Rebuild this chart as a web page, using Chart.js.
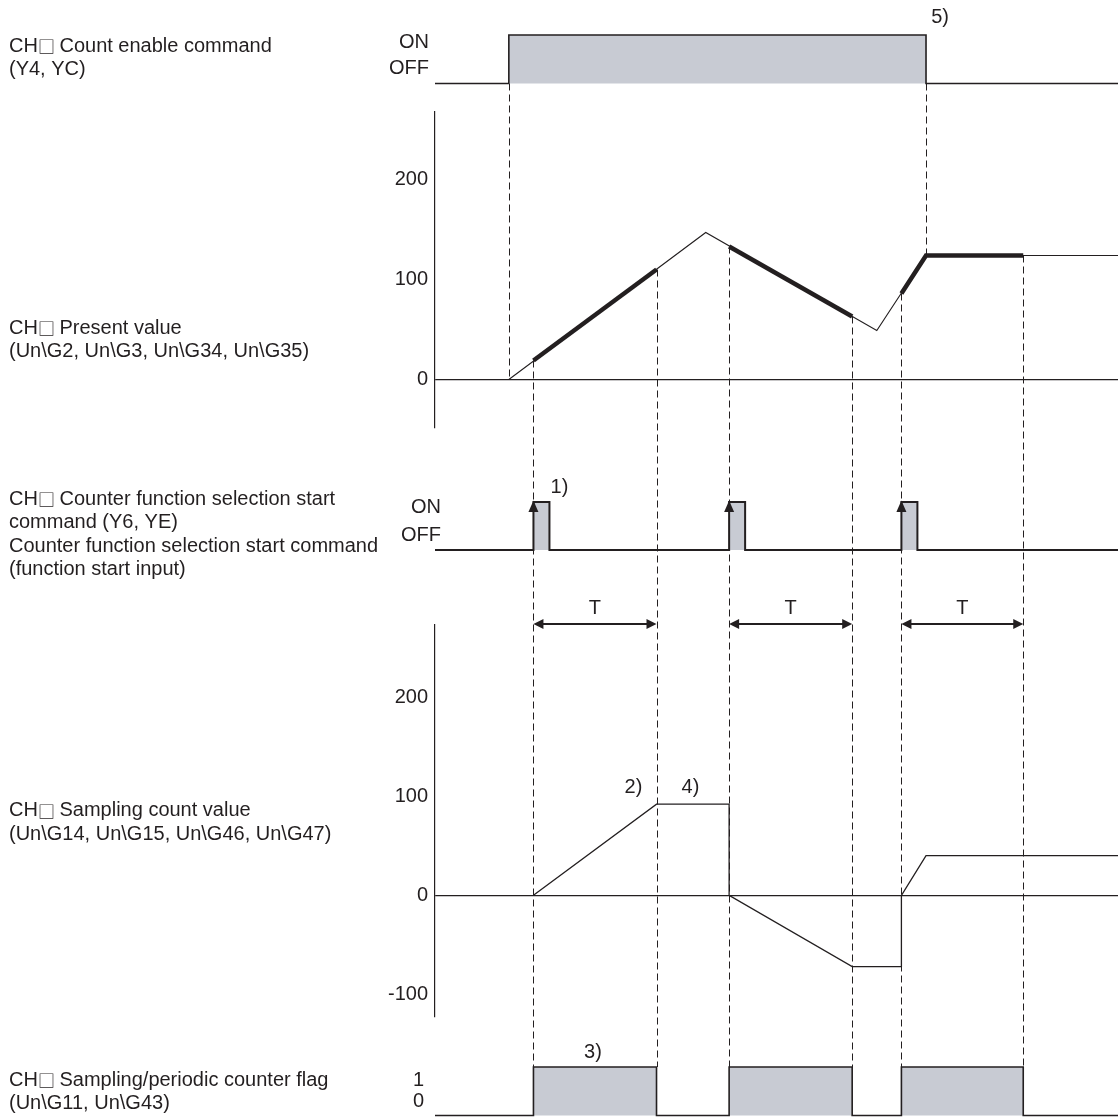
<!DOCTYPE html>
<html>
<head>
<meta charset="utf-8">
<script src="https://cdn.jsdelivr.net/npm/chart.js@4.4.0/dist/chart.umd.min.js"></script>
<style>
html,body{margin:0;padding:0;background:#fff;overflow:hidden;}
canvas{display:block;}
</style>
</head>
<body>
<canvas id="c" width="1118" height="1117"></canvas>
<script>
// ---- data (time in ms, T = 100 ms) ----
const timeRange = [0, 555];

const ceTimes  = [0, 60, 399, 555];          // count enable command
const ceLevels = [0, 1, 0, 0];

const pvTimes  = [60, 220, 359, 399, 555];    // present value
const pvValues = [0, 147, 49, 124, 124];
const pvTicks  = [0, 100, 200];

const held1Times = [80, 180],       held1Values = [19, 110];
const held2Times = [239, 339],      held2Values = [133, 63];
const held3Times = [379, 399, 478], held3Values = [86, 124, 124];

const stTimes  = [0, 80, 93, 239, 252, 379, 392, 555];   // function start command
const stLevels = [0, 1, 0, 1, 0, 1, 0, 0];

const sampleStart = [80, 239, 379];
const sampleEnd   = [180, 339, 478];

const scTimes  = [80, 180, 239, 239, 339, 379, 379, 399, 555];  // sampling count value
const scValues = [0, 92, 92, 0, -72, -72, 0, 40, 40];
const scTicks  = [-100, 0, 100, 200];

const flTimes  = [0, 80, 180, 239, 339, 379, 478, 555];   // sampling/periodic counter flag
const flLevels = [0, 1, 0, 1, 0, 1, 0, 0];

const rowLabels = [
  ['CH\u25A1 Count enable command', '(Y4, YC)'],
  ['CH\u25A1 Present value', '(Un\\G2, Un\\G3, Un\\G34, Un\\G35)'],
  ['CH\u25A1 Counter function selection start', 'command (Y6, YE)', 'Counter function selection start command', '(function start input)'],
  ['CH\u25A1 Sampling count value', '(Un\\G14, Un\\G15, Un\\G46, Un\\G47)'],
  ['CH\u25A1 Sampling/periodic counter flag', '(Un\\G11, Un\\G43)']
];
const onOffLabels = ['ON', 'OFF'];
const flagLabels = ['1', '0'];
const noteLabels = ['1)', '2)', '3)', '4)', '5)'];

// ---- style ----
const INK = '#231f20';
const FILL = '#c8cbd3';
const FONT = "'Liberation Sans', Arial, Helvetica, sans-serif";
const BOX_FONT = "'Noto Sans CJK JP', 'DejaVu Sans', sans-serif";
const AXIS_W = 70;

const pts = (ts, vs) => ts.map((t, i) => ({ x: t, y: vs[i] }));

function bandAxis(weight, stackWeight, min, max, extra) {
  return Object.assign({
    type: 'linear', position: 'left', stack: 'rows', stackWeight, weight, min, max,
    ticks: { display: false },
    grid: { display: false },
    border: { display: false },
    afterFit: s => { s.width = AXIS_W; s.paddingTop = 0; s.paddingBottom = 0; }
  }, extra || {});
}

function valueAxis(weight, stackWeight, min, max, tickList) {
  return bandAxis(weight, stackWeight, min, max, {
    afterBuildTicks: s => { s.ticks = tickList.map(v => ({ value: v })); },
    ticks: { display: true, autoSkip: false, padding: 7, color: INK, font: { family: FONT, size: 20 },
             callback: v => String(v) },
    grid: {
      display: true, drawOnChartArea: true, drawTicks: false, lineWidth: 1.2,
      color: c => (c.tick && c.tick.value === 0) ? INK : 'rgba(0,0,0,0)'
    },
    border: { display: true, color: INK, width: 1.2 }
  });
}

function triangle(ctx, x1, y1, x2, y2, x3, y3) {
  ctx.beginPath(); ctx.moveTo(x1, y1); ctx.lineTo(x2, y2); ctx.lineTo(x3, y3); ctx.closePath(); ctx.fill();
}

// left-aligned text where the box glyph uses a font with a full-size square
function drawRuns(ctx, txt, x, y) {
  const parts = txt.split('\u25A1');
  parts.forEach((p, i) => {
    ctx.font = `20px ${FONT}`;
    ctx.fillText(p, x, y);
    x += ctx.measureText(p).width;
    if (i < parts.length - 1) {
      ctx.font = `17px ${BOX_FONT}`;
      ctx.fillText('\u25A1', x, y + 0.5);
      x += ctx.measureText('\u25A1').width - 1;
    }
  });
  ctx.font = `20px ${FONT}`;
}

const overlay = {
  id: 'overlay',
  beforeDatasetsDraw(chart) {
    const { ctx, scales: s } = chart;
    const X = t => s.x.getPixelForValue(t);
    const guides = [
      [ceTimes[1], s.yCE.getPixelForValue(0), s.yPV.getPixelForValue(pvValues[0])],
      [ceTimes[2], s.yCE.getPixelForValue(0), s.yPV.getPixelForValue(pvValues[3])],
      [held1Times[0], s.yPV.getPixelForValue(held1Values[0]), s.yFL.getPixelForValue(1)],
      [held1Times[1], s.yPV.getPixelForValue(held1Values[1]), s.yFL.getPixelForValue(1)],
      [held2Times[0], s.yPV.getPixelForValue(held2Values[0]), s.yFL.getPixelForValue(1)],
      [held2Times[1], s.yPV.getPixelForValue(held2Values[1]), s.yFL.getPixelForValue(1)],
      [held3Times[0], s.yPV.getPixelForValue(held3Values[0]), s.yFL.getPixelForValue(1)],
      [held3Times[2], s.yPV.getPixelForValue(held3Values[2]), s.yFL.getPixelForValue(1)]
    ];
    ctx.save();
    ctx.strokeStyle = INK; ctx.lineWidth = 1; ctx.setLineDash([7, 4]);
    guides.forEach(([t, y1, y2]) => {
      const x = Math.round(X(t)) + 0.5;
      ctx.beginPath(); ctx.moveTo(x, y1); ctx.lineTo(x, y2); ctx.stroke();
    });
    ctx.restore();
  },
  afterDatasetsDraw(chart) {
    const { ctx, scales: s } = chart;
    const X = t => s.x.getPixelForValue(t);
    ctx.save();
    ctx.fillStyle = INK; ctx.strokeStyle = INK;
    // arrowheads on rising edges of start command
    for (let i = 1; i < stTimes.length; i++) {
      if (stLevels[i] === 1 && stLevels[i - 1] === 0) {
        const x = X(stTimes[i]), y = s.yST.getPixelForValue(1);
        triangle(ctx, x, y - 1.5, x - 5, y + 10, x + 5, y + 10);
      }
    }
    // T arrows
    const ty = s.ySC.top - 1;
    ctx.lineWidth = 2.2;
    ctx.font = `20px ${FONT}`; ctx.textAlign = 'center'; ctx.textBaseline = 'middle';
    sampleStart.forEach((t0, i) => {
      const a = X(t0), b = X(sampleEnd[i]);
      ctx.beginPath(); ctx.moveTo(a + 6, ty); ctx.lineTo(b - 6, ty); ctx.stroke();
      triangle(ctx, a, ty, a + 10, ty - 5, a + 10, ty + 5);
      triangle(ctx, b, ty, b - 10, ty - 5, b - 10, ty + 5);
      ctx.fillText('T', (a + b) / 2, ty - 16);
    });
    // notes
    const notes = [
      [noteLabels[0], X(stTimes[2]) + 10, s.yST.getPixelForValue(1) - 15],
      [noteLabels[1], X(sampleEnd[0]) - 23, s.ySC.getPixelForValue(scValues[1]) - 17],
      [noteLabels[2], (X(flTimes[1]) + X(flTimes[2])) / 2 - 2, s.yFL.getPixelForValue(1) - 15],
      [noteLabels[3], X(sampleEnd[0]) + 34, s.ySC.getPixelForValue(scValues[1]) - 17],
      [noteLabels[4], X(ceTimes[2]) + 14, s.yCE.getPixelForValue(1) - 18]
    ];
    notes.forEach(([txt, x, y]) => ctx.fillText(txt, x, y));
    // level labels
    ctx.textAlign = 'right';
    ctx.fillText(onOffLabels[0], 429, s.yCE.getPixelForValue(1) + 7);
    ctx.fillText(onOffLabels[1], 429, s.yCE.getPixelForValue(0) - 15);
    ctx.fillText(onOffLabels[0], 441, s.yST.getPixelForValue(1) + 5);
    ctx.fillText(onOffLabels[1], 441, s.yST.getPixelForValue(0) - 15);
    ctx.fillText(flagLabels[0], 424, s.yFL.getPixelForValue(1) + 13);
    ctx.fillText(flagLabels[1], 424, s.yFL.getPixelForValue(0) - 14);
    // row descriptions
    ctx.textAlign = 'left';
    const firstLine = [
      s.yCE.getPixelForValue(1) + 11,
      s.yPV.getPixelForValue(0) - 51.5,
      s.yST.getPixelForValue(1) - 3,
      s.ySC.getPixelForValue(0) - 84.5,
      s.yFL.getPixelForValue(1) + 13
    ];
    rowLabels.forEach((lines, r) => {
      lines.forEach((txt, i) => drawRuns(ctx, txt, 9, firstLine[r] + i * 23.5));
    });
    ctx.restore();
  }
};

const lineBase = { pointRadius: 0, tension: 0, borderColor: INK, fill: false, xAxisID: 'x' };

new Chart(document.getElementById('c'), {
  type: 'line',
  data: {
    datasets: [
      Object.assign({}, lineBase, { label: 'held1', data: pts(held1Times, held1Values), yAxisID: 'yPV', borderWidth: 4.5 }),
      Object.assign({}, lineBase, { label: 'held2', data: pts(held2Times, held2Values), yAxisID: 'yPV', borderWidth: 4.5 }),
      Object.assign({}, lineBase, { label: 'held3', data: pts(held3Times, held3Values), yAxisID: 'yPV', borderWidth: 4.5 }),
      Object.assign({}, lineBase, { label: 'present', data: pts(pvTimes, pvValues), yAxisID: 'yPV', borderWidth: 1.1 }),
      Object.assign({}, lineBase, { label: 'countEnable', data: pts(ceTimes, ceLevels), yAxisID: 'yCE', stepped: true, fill: 'origin', backgroundColor: FILL, borderWidth: 1.6 }),
      Object.assign({}, lineBase, { label: 'start', data: pts(stTimes, stLevels), yAxisID: 'yST', stepped: true, fill: 'origin', backgroundColor: FILL, borderWidth: 2 }),
      Object.assign({}, lineBase, { label: 'sampling', data: pts(scTimes, scValues), yAxisID: 'ySC', borderWidth: 1.3 }),
      Object.assign({}, lineBase, { label: 'flag', data: pts(flTimes, flLevels), yAxisID: 'yFL', stepped: true, fill: 'origin', backgroundColor: FILL, borderWidth: 1.6 })
    ]
  },
  options: {
    responsive: false,
    animation: false,
    devicePixelRatio: 1,
    layout: { padding: { left: 435 - AXIS_W, right: 0, top: 0, bottom: 0 } },
    plugins: { legend: { display: false }, tooltip: { enabled: false }, title: { display: false } },
    scales: {
      x: { type: 'linear', min: timeRange[0], max: timeRange[1], display: false },
      yCE: bandAxis(5, 112, -0.588, 1.722),
      yPV: valueAxis(4, 316, -48.5, 267.5, pvTicks),
      yST: bandAxis(3, 197, -1.5625, 2.542),
      ySC: valueAxis(2, 392, -122.9, 273, scTicks),
      yFL: bandAxis(1, 100, -0.031, 2.031)
    }
  },
  plugins: [overlay]
});
</script>
</body>
</html>
